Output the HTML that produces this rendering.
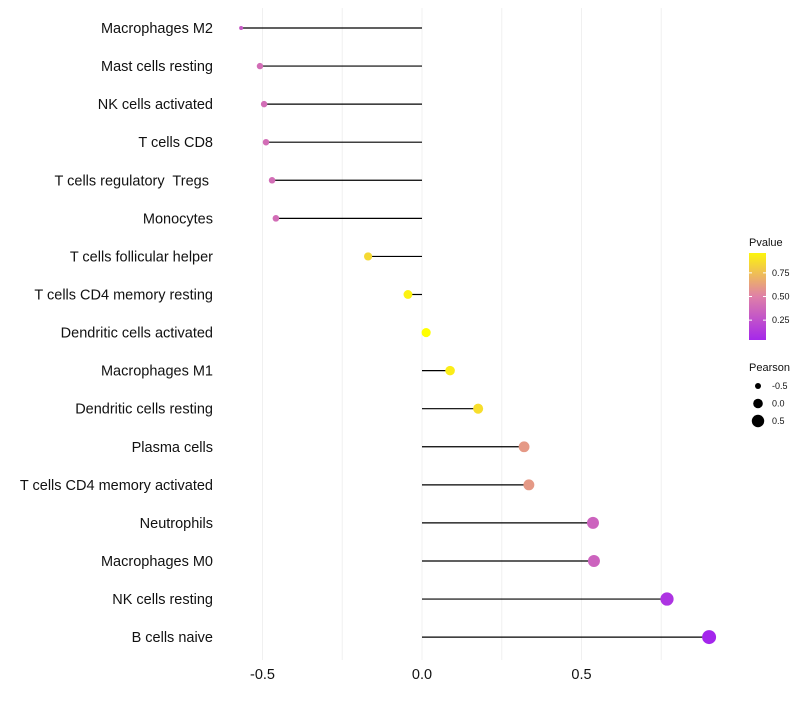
<!DOCTYPE html>
<html><head><meta charset="utf-8"><style>
body{margin:0;background:#fff;font-family:"Liberation Sans",sans-serif}
svg text{font-family:"Liberation Sans",sans-serif;white-space:pre}
</style></head><body>
<svg id="c" width="800" height="700"></svg>
<script>
const categories=["Macrophages M2","Mast cells resting","NK cells activated","T cells CD8","T cells regulatory  Tregs ","Monocytes","T cells follicular helper","T cells CD4 memory resting","Dendritic cells activated","Macrophages M1","Dendritic cells resting","Plasma cells","T cells CD4 memory activated","Neutrophils","Macrophages M0","NK cells resting","B cells naive"];
const pearson=[-0.567,-0.508,-0.495,-0.489,-0.47,-0.458,-0.169,-0.044,0.013,0.088,0.176,0.32,0.335,0.536,0.539,0.768,0.9];
const pvalues=[0.3,0.4,0.4,0.4,0.4,0.4,0.85,0.95,1.0,0.93,0.87,0.6,0.6,0.35,0.35,0.1,0.03];
const xTicks=[-0.5,0,0.5];
const xTickLabels=["-0.5","0.0","0.5"];
const legendP=[0.75,0.5,0.25];
const legendPLabels=["0.75","0.50","0.25"];
const legendSize=[-0.5,0,0.5];
const legendSizeLabels=["-0.5","0.0","0.5"];

const NS="http://www.w3.org/2000/svg";
const svg=document.getElementById('c');
function el(t,a,p){const e=document.createElementNS(NS,t);for(const k in a)e.setAttribute(k,a[k]);(p||svg).appendChild(e);return e;}
const xs=v=>422+v*319;
const ys=i=>28+i*38.07;
const rs=v=>v<-0.55?2:3.2+2.7*(v+0.5);
function hex(h){return [1,3,5].map(i=>parseInt(h.substr(i,2),16));}
const stops=[[0,hex('#a020f0')],[0.5,hex('#df80a8')],[1,hex('#ffff00')]];
function col(p){p=Math.max(0,Math.min(1,p));let a=stops[0],b=stops[1];if(p>0.5){a=stops[1];b=stops[2];}const t=(p-a[0])/(b[0]-a[0]);return 'rgb('+a[1].map((c,i)=>Math.round(c+(b[1][i]-c)*t)).join(',')+')';}

[-0.25,0.25,0.75].concat(xTicks).forEach(v=>{
  const l=el('line',{x1:xs(v),x2:xs(v),y1:8,y2:660,stroke:'#f0f0f0','stroke-width':1});
  
  
});
xTicks.forEach((v,i)=>{
  const t=el('text',{x:xs(v),y:679,'text-anchor':'middle','font-size':14.5,fill:'#111'});
  t.textContent=xTickLabels[i];
  
  
});
categories.forEach((c,i)=>{
  const y=ys(i);
  const t=el('text',{x:213,y:y+5,'text-anchor':'end','font-size':14.5,fill:'#111'});
  t.textContent=c;
  
  
  const s=el('line',{x1:xs(0),x2:xs(pearson[i]),y1:y,y2:y,stroke:'#000','stroke-width':1.2});
  
  
  const d=el('circle',{cx:xs(pearson[i]),cy:y,r:rs(pearson[i]),fill:col(pvalues[i])});
  
  
});
const lt=el('text',{x:749,y:246,'font-size':11,fill:'#111'});lt.textContent='Pvalue';


const defs=el('defs',{});
const g=el('linearGradient',{id:'gr',x1:0,y1:1,x2:0,y2:0},defs);
for(let k=0;k<=10;k++){el('stop',{offset:k/10,'stop-color':col(0.04+0.92*k/10)},g);}
const bar=el('rect',{x:749,y:253,width:17,height:87,fill:'url(#gr)'});


legendP.forEach((v,i)=>{
  const y=253+(0.96-v)/0.92*87;
  el('line',{x1:749,x2:752,y1:y,y2:y,stroke:'#fff'});el('line',{x1:763,x2:766,y1:y,y2:y,stroke:'#fff'});
  const t=el('text',{x:772,y:y+3,'font-size':9,fill:'#111'});t.textContent=legendPLabels[i];
  
  
});
const st=el('text',{x:749,y:371,'font-size':11,fill:'#111'});st.textContent='Pearson';


legendSize.forEach((v,i)=>{
  const y=386+i*17.5;
  const c=el('circle',{cx:758,cy:y,r:[3,4.8,6.2][i],fill:'#000'});
  
  
  const t=el('text',{x:772,y:y+3,'font-size':9,fill:'#111'});t.textContent=legendSizeLabels[i];
  
  
});
</script>
</body></html>
